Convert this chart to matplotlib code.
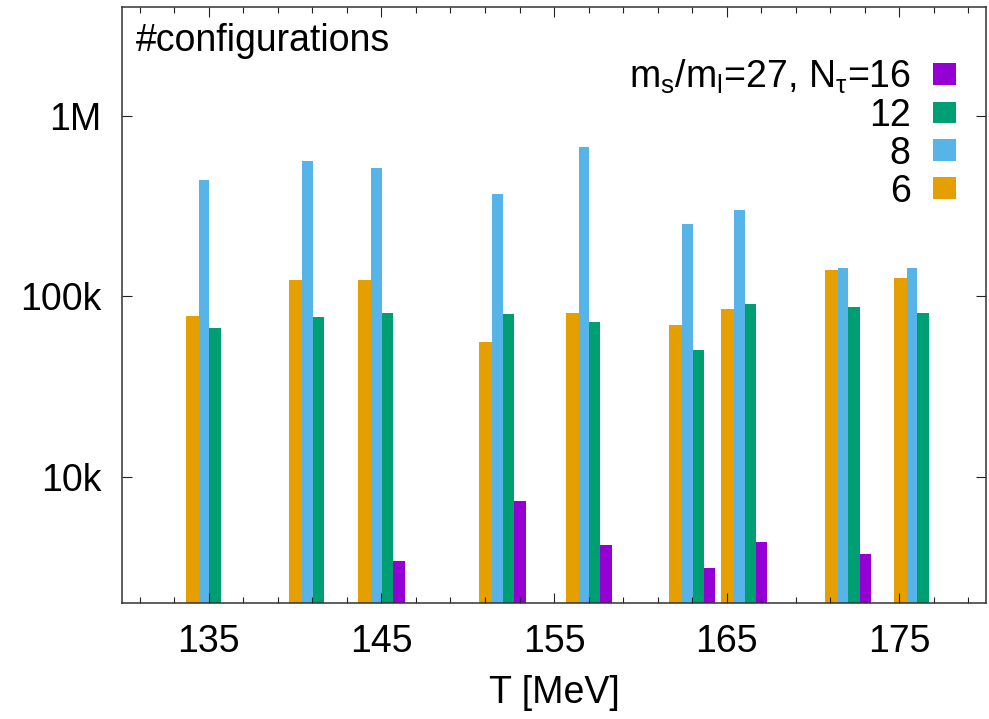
import numpy as np
import matplotlib
matplotlib.use("Agg")
import matplotlib.pyplot as plt
from matplotlib.patches import Patch

plt.rcParams["font.family"] = ["Liberation Sans", "DejaVu Sans"]
plt.rcParams["mathtext.fontset"] = "custom"
plt.rcParams["mathtext.rm"] = "Liberation Sans"
plt.rcParams["mathtext.it"] = "Liberation Sans:italic"

# temperatures of the ensembles and number of configurations per N_tau
temps = [135, 141, 145, 152, 157, 163, 166, 172, 176]
nconf_nt6 = [78e3, 123e3, 123e3, 56e3, 81e3, 69e3, 85e3, 139e3, 127e3]
nconf_nt8 = [440e3, 558e3, 511e3, 368e3, 668e3, 251e3, 301e3, 144e3, 144e3]
nconf_nt12 = [66.5e3, 76.6e3, 80.8e3, 79.5e3, 72.3e3, 50.6e3, 90.3e3, 86.9e3, 80.8e3]
nconf_nt16 = [np.nan, np.nan, 3436, 7330, 4183, 3134, 4345, 3758, np.nan]

legend_labels = [r"m$_\mathrm{s}$/m$_\mathrm{l}$=27, N$_{\mathrm{τ}}$=16", "12", "8", "6"]
ytick_vals = [1e4, 1e5, 1e6]
ytick_labels = ["10k", "100k", "1M"]
xtick_vals = [135, 145, 155, 165, 175]

# (data, colour, left-edge offset from T, box width)
series = [
    (nconf_nt6, "#e69f00", -1.33, 0.75),
    (nconf_nt8, "#56b4e9", -0.58, 0.62),
    (nconf_nt12, "#009e73", 0.04, 0.65),
    (nconf_nt16, "#9400d3", 0.69, 0.66),
]

fig = plt.figure(figsize=(9.89, 7.19), dpi=100)
ax = fig.add_axes([0.1237, 0.1613, 0.873, 0.829])
ax.set_yscale("log")

T = np.array(temps, dtype=float)
for vals, col, off, w in series:
    ax.bar(T + off, vals, width=w, align="edge", color=col, linewidth=0, bottom=1)

ax.set_xlim(130, 180)
ax.set_ylim(2000, 4e6)

ax.set_yticks(ytick_vals)
ax.set_yticklabels(ytick_labels)
ax.yaxis.set_minor_locator(matplotlib.ticker.NullLocator())
ax.set_xticks(xtick_vals)
ax.set_xticks(np.arange(131, 180, 2), minor=True)

ax.tick_params(which="both", direction="in", top=True, right=True,
               labelsize=27, width=0.8, color="#222222")
ax.tick_params(which="major", length=7.2, pad=15)
ax.tick_params(which="minor", length=4.3)
for sp in ax.spines.values():
    sp.set_linewidth(1.1)
    sp.set_color("#333333")

ax.set_xlabel("T [MeV]", fontsize=27, labelpad=11)
ax.text(0.016, 0.926, "#configurations", transform=ax.transAxes,
        fontsize=27, va="baseline", ha="left")

handles = [Patch(facecolor=series[i][1]) for i in (3, 2, 1, 0)]
leg = ax.legend(handles, legend_labels, loc="upper right",
                bbox_to_anchor=(0.965, 0.915), markerfirst=False, frameon=False,
                fontsize=27, handlelength=0.6, handleheight=0.52,
                handletextpad=0.6, labelspacing=0.05, borderpad=0, borderaxespad=0)

fig.savefig("out.png", dpi=100)
